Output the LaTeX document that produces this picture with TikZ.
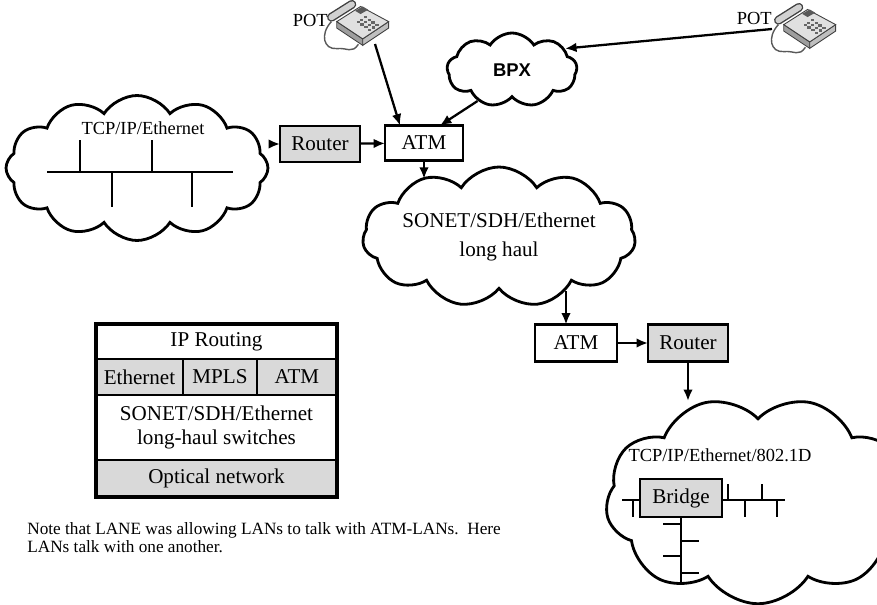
\documentclass[tikz,border=0pt]{standalone}
\usepackage{fontspec}
\setmainfont{Liberation Serif}
\newfontfamily\bpxfont{Liberation Sans}
\usetikzlibrary{positioning,arrows.meta,shapes.symbols}

\tikzset{
	box/.style={draw,line width=1.4pt,inner sep=0pt,outer sep=0pt,font=\fontsize{12}{14}\selectfont},
	graybox/.style={box,fill=black!15},
	netcloud/.style={cloud,draw,line width=1.6pt,cloud puffs=11,cloud puff arc=115,cloud ignores aspect,inner sep=0pt},
	lbl/.style={inner sep=0pt,font=\fontsize{10.5}{12}\selectfont},
	link/.style={-{Latex[length=6.5pt,width=5.5pt]},line width=1.3pt},
	bus/.style={line width=1.6pt},
	phonebody/.style={draw=black!75,line width=0.5pt},
}

% desk telephone, #1 is its top left corner
\newcommand{\deskphone}[1]{%
	\begin{scope}[shift={(#1)},scale=1.08]
		% cord
		\draw[black!65,line width=0.8pt] (5,20) .. controls (-6,32) and (-2,46) .. (10,45) .. controls (20,44) and (24,50) .. (30,41);
		% body
		\filldraw[phonebody,fill=black!38] (10,20) -- (34,36) -- (34,42) -- (10,26) -- cycle;
		\filldraw[phonebody,fill=black!25] (34,36) -- (58,20) -- (58,26) -- (34,42) -- cycle;
		\filldraw[phonebody,fill=black!12] (10,20) -- (32,6) -- (58,20) -- (34,36) -- cycle;
		% display and keys
		\fill[black!65] (27,10) -- (34,6) -- (39,9) -- (32,13) -- cycle;
		\foreach \u in {0.45,0.6,0.75}
			\foreach \v in {0.35,0.5,0.65,0.8}
				\fill[black!60] ({10+22*\u+24*\v},{20-14*\u+16*\v}) rectangle ++(3,2);
		% handset
		\draw[black!75,line width=5pt,line cap=round] (5,16) -- (24,4);
		\draw[black!18,line width=3.4pt,line cap=round] (5,16) -- (24,4);
	\end{scope}}

\begin{document}
\begin{tikzpicture}[x=0.02cm,y=-0.02cm]
	\useasboundingbox (0,0) rectangle (877,605);

	% telephones and the BPX
	\coordinate (potL) at (326,0);
	\coordinate (potR) at (773,3);
	\deskphone{potL}
	\deskphone{potR}
	\node[lbl,anchor=east] (potLlbl) at (328,20) {POT};
	\node[lbl,anchor=east] (potRlbl) at (772,18) {POT};
	\node[netcloud,cloud puffs=9,minimum width=2.6cm,minimum height=1.48cm,
		font={\bpxfont\fontsize{10.5}{12}\selectfont\bfseries}] (bpx) at (512,70) {BPX};

	% first LAN
	\node[netcloud,cloud puffs=12,minimum width=5.24cm,minimum height=2.9cm] (lanA) at (137,168) {};
	\node[lbl] (lanAlbl) at (143,128) {TCP/IP/Ethernet};
	\draw[bus] (47,172) -- (233,172);
	\foreach \x in {80,152} \draw[bus] (\x,140) -- (\x,172);
	\foreach \x in {112,192} \draw[bus] (\x,172) -- (\x,207);

	\node[graybox,minimum width=1.6cm,minimum height=0.72cm] (routerA) at (320,144) {Router};
	\node[box,minimum width=1.56cm,minimum height=0.7cm] (atmA) at (424,143) {ATM};

	% long haul
	\node[netcloud,minimum width=4.84cm,minimum height=2.8cm,align=center,
		font=\fontsize{12}{17}\selectfont] (core) at (499,237) {SONET/SDH/Ethernet\\long haul};
	\coordinate (coreout) at (566,291);

	\node[box,minimum width=1.64cm,minimum height=0.74cm] (atmB) at (576,343) {ATM};
	\node[graybox,minimum width=1.6cm,minimum height=0.74cm] (routerB) at (688,343) {Router};

	% second LAN with the bridge (turned over so a puff sits behind the label)
	\node[netcloud,cloud puffs=9,rotate=180,minimum width=6.1cm,minimum height=4.15cm] (lanB) at (758,500) {};
	\coordinate (lanBin) at (688,401);
	\node[lbl] (lanBlbl) at (720,455) {TCP/IP/Ethernet/802.1D};
	\node[graybox,minimum width=1.64cm,minimum height=0.76cm] (bridge) at (681,498) {Bridge};
	\draw[bus] (622,500) -- (bridge.west |- 0,500);
	\draw[bus] (bridge.east |- 0,500) -- (785,500);
	\draw[bus] (633,500) -- (633,517);
	\foreach \x in {728,762} \draw[bus] (\x,484) -- (\x,500);
	\foreach \x in {745,777} \draw[bus] (\x,500) -- (\x,517);
	\draw[bus] (bridge.south) -- (681,582);
	\foreach \y in {524,556} \draw[bus] (663,\y) -- (681,\y);
	\foreach \y in {541,573} \draw[bus] (681,\y) -- (699,\y);

	% connections
	\draw[link] ([shift={(49,44)}]potL) -- ([xshift=0.3cm]atmA.north west);
	\draw[link] ([shift={(-1,26)}]potR) -- (bpx.22);
	\draw[link] (bpx.222) -- ([xshift=-0.46cm]atmA.north east);
	\draw[link] (lanA.east |- routerA.west) -- (routerA.west);
	\draw[link] (routerA) -- (atmA);
	\draw[link] (atmA.south) -- (atmA.south |- core.144);
	\draw[link] (coreout) -- (coreout |- atmB.north);
	\draw[link] (atmB) -- (routerB);
	\draw[link] (routerB.south) -- (lanBin);

	% protocol stack
	\begin{scope}[every node/.append style={anchor=north west,font=\fontsize{12.3}{16}\selectfont}]
		\node[box,minimum width=4.82cm,minimum height=0.7cm] (iprow) at (96,324) {IP Routing};
		\node[graybox,minimum width=1.74cm,minimum height=0.72cm] (ethcell) at (iprow.south west) {Ethernet};
		\node[graybox,minimum width=1.48cm,minimum height=0.72cm] (mplscell) at (ethcell.north east) {MPLS};
		\node[graybox,minimum width=1.6cm,minimum height=0.72cm] (atmcell) at (mplscell.north east) {ATM};
		\node[box,minimum width=4.82cm,minimum height=1.3cm,align=center] (sonetrow) at (ethcell.south west) {SONET/SDH/Ethernet\\long-haul switches};
		\node[graybox,minimum width=4.82cm,minimum height=0.74cm] (optical) at (sonetrow.south west) {Optical network};
	\end{scope}
	\draw[line width=1.9pt] (iprow.north west) rectangle (optical.south east);

	\node[anchor=north west,align=left,inner sep=0pt,font=\fontsize{9.8}{10.6}\selectfont] (note) at (27,522)
		{Note that LANE was allowing LANs to talk with ATM-LANs.\ \ Here\\LANs talk with one another.};
\end{tikzpicture}
\end{document}
